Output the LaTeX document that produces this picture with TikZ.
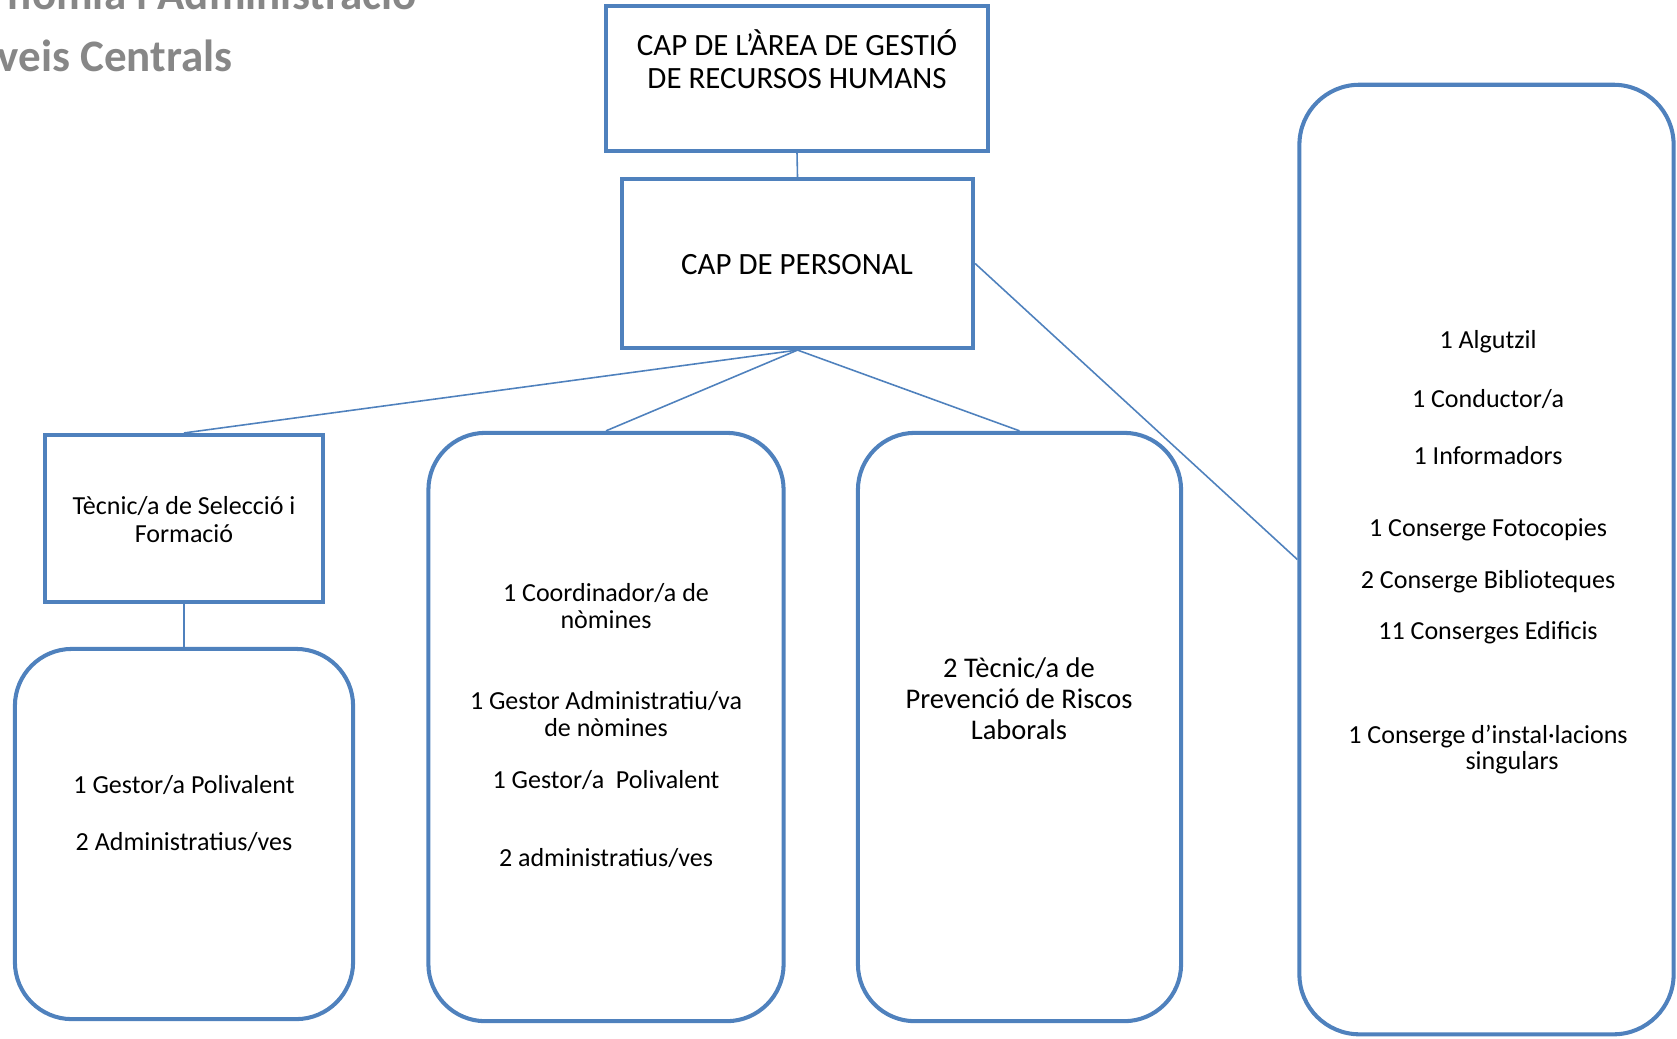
\documentclass[tikz,border=0pt]{standalone}
\usepackage{fontspec}
\setmainfont{Carlito}
\definecolor{boxblue}{HTML}{4F81BD}
\definecolor{titlegray}{HTML}{878787}
\tikzset{
    box/.style={draw=boxblue,line width=1.15pt,rectangle,inner sep=0},
    roundbox/.style={box,rounded corners=0.57cm},
    link/.style={draw=boxblue,line width=0.45pt},
    txt/.style={align=center,inner sep=0,text=black}
}

\begin{document}
\begin{tikzpicture}[x=0.01cm,y=-0.01cm]
    \providecommand{\titlefontsize}{\fontsize{12.8}{14.5}\selectfont}
    \providecommand{\headfontsize}{\fontsize{8.8}{9.4}\selectfont}
    \providecommand{\riskfontsize}{\fontsize{8.1}{8.8}\selectfont}
    \providecommand{\staffontsize}{\fontsize{7.4}{7.7}\selectfont}
    \useasboundingbox (0,0) rectangle (1677,1038);
    % title, cut by the page edge
    \node[txt,anchor=base east,text=titlegray,font=\titlefontsize\bfseries] (titlea) at (417,9) {nomia i Administració};
    \node[txt,anchor=base west,text=titlegray,font=\titlefontsize\bfseries] (titleb) at (-3,71) {veis Centrals};
    % boxes
    \node[box,minimum width=3.82cm,minimum height=1.45cm] (hum) at (797,78.5) {};
    \node[box,minimum width=3.51cm,minimum height=1.69cm] (personal) at (797.5,263.5) {};
    \node[box,minimum width=2.78cm,minimum height=1.67cm] (tecnic) at (184,518.5) {};
    \node[roundbox,minimum width=3.38cm,minimum height=3.70cm] (gestor) at (184,834) {};
    \node[roundbox,minimum width=3.55cm,minimum height=5.88cm] (nomines) at (606,727) {};
    \node[roundbox,minimum width=3.23cm,minimum height=5.88cm] (prevencio) at (1019.5,727) {};
    \node[roundbox,rounded corners=0.6cm,minimum width=3.74cm,minimum height=9.49cm] (serveis) at (1486.5,559.5) {};
    % connectors
    \draw[link] (hum.south) -- (personal.north);
    \draw[link] (personal.south) -- (tecnic.north);
    \draw[link] (personal.south) -- (nomines.north);
    \draw[link] (personal.south) -- (prevencio.north);
    \draw[link] (personal.east) -- (serveis.west);
    \draw[link] (tecnic.south) -- (gestor.north);
    % texts
    \node[txt,font=\headfontsize] (humtxt) at (797,59) {CAP DE L’ÀREA DE GESTIÓ\\DE RECURSOS HUMANS};
    \node[txt,font=\headfontsize] (personaltxt) at (797,265) {CAP DE PERSONAL};
    \node[txt,font=\staffontsize] (tecnictxt) at (184,519.5) {Tècnic/a de Selecció i\\Formació};
    \node[txt,font=\staffontsize] (gestora) at (184,785) {1 Gestor/a Polivalent};
    \node[txt,font=\staffontsize] (gestorb) at (184,842) {2 Administratius/ves};
    \node[txt,font=\staffontsize] (nominesa) at (606,606) {1 Coordinador/a de\\nòmines};
    \node[txt,font=\staffontsize] (nominesb) at (606,714) {1 Gestor Administratiu/va\\de nòmines};
    \node[txt,font=\staffontsize] (nominesc) at (606,780) {1 Gestor/a~~Polivalent};
    \node[txt,font=\staffontsize] (nominesd) at (606,858) {2 administratius/ves};
    \node[txt,font=\riskfontsize] (prevenciotxt) at (1019,699) {2 Tècnic/a de\\Prevenció de Riscos\\Laborals};
    \node[txt,font=\staffontsize] (servia) at (1488,342) {1 Algutzil};
    \node[txt,font=\staffontsize] (servib) at (1488,399) {1 Conductor/a};
    \node[txt,font=\staffontsize] (servic) at (1488,456) {1 Informadors};
    \node[txt,font=\staffontsize] (servid) at (1488,530) {1 Conserge Fotocopies};
    \node[txt,font=\staffontsize] (servie) at (1488,582) {2 Conserge Biblioteques};
    \node[txt,font=\staffontsize] (servif) at (1488,633) {11 Conserges Edificis};
    \node[txt,font=\staffontsize] (servig) at (1488,737) {1 Conserge d’instal·lacions};
    \node[txt,font=\staffontsize] (servih) at (1512,763) {singulars};
\end{tikzpicture}
\end{document}
